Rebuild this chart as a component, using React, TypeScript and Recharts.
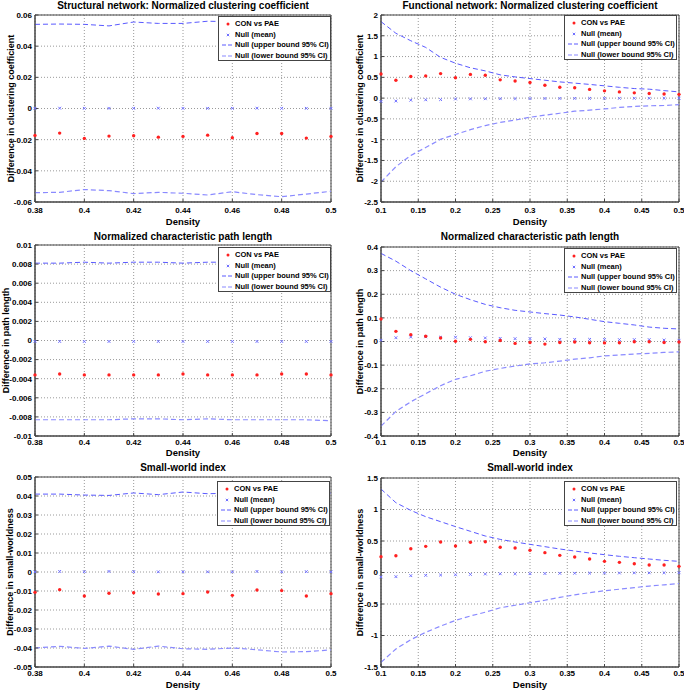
import React from 'react';
import { ComposedChart, Line, XAxis, YAxis, CartesianGrid, Legend, Label, ReferenceArea } from 'recharts';

// ---------- densities ----------
const densityStructural = [0.38, 0.39, 0.4, 0.41, 0.42, 0.43, 0.44, 0.45, 0.46, 0.47, 0.48, 0.49, 0.5];
const densityFunctional = [0.1, 0.12, 0.14, 0.16, 0.18, 0.2, 0.22, 0.24, 0.26, 0.28, 0.3, 0.32, 0.34, 0.36, 0.38, 0.4, 0.42, 0.44, 0.46, 0.48, 0.5];

// ---------- tick labels ----------
const xTicksStructural = [0.38, 0.4, 0.42, 0.44, 0.46, 0.48, 0.5];
const xTicksFunctional = [0.1, 0.15, 0.2, 0.25, 0.3, 0.35, 0.4, 0.45, 0.5];
const yTicksSClust = [-0.06, -0.04, -0.02, 0, 0.02, 0.04, 0.06];
const yTicksFClust = [-2.5, -2, -1.5, -1, -0.5, 0, 0.5, 1, 1.5, 2];
const yTicksSPath = [-0.01, -0.008, -0.006, -0.004, -0.002, 0, 0.002, 0.004, 0.006, 0.008, 0.01];
const yTicksFPath = [-0.4, -0.3, -0.2, -0.1, 0, 0.1, 0.2, 0.3, 0.4];
const yTicksSSw = [-0.05, -0.04, -0.03, -0.02, -0.01, 0, 0.01, 0.02, 0.03, 0.04, 0.05];
const yTicksFSw = [-1.5, -1, -0.5, 0, 0.5, 1, 1.5];

// ---------- legend labels ----------
const legendLabels = ['CON vs PAE', 'Null (mean)', 'Null (upper bound 95% CI)', 'Null (lower bound 95% CI)'];

// ---------- structural: clustering ----------
const sClustCon = [-0.0173, -0.0158, -0.0192, -0.0177, -0.0175, -0.0184, -0.0179, -0.0171, -0.0188, -0.016, -0.016, -0.019, -0.0179];
const sClustNull = [0.0001, 0.0002, 0.0001, 0.0001, 0.0001, 0.0002, 0.0001, 0.0001, 0.0001, 0.0002, 0.0001, 0.0001, 0.0001];
const sClustUp = [0.054, 0.0542, 0.054, 0.053, 0.0555, 0.0546, 0.0546, 0.056, 0.0557, 0.055, 0.0545, 0.0552, 0.055];
const sClustLo = [-0.054, -0.0538, -0.052, -0.0527, -0.0546, -0.0538, -0.0544, -0.0555, -0.0534, -0.0553, -0.0566, -0.0549, -0.0531];

// ---------- functional: clustering ----------
const fClustCon = [0.58, 0.43, 0.52, 0.535, 0.59, 0.49, 0.57, 0.55, 0.44, 0.41, 0.375, 0.31, 0.26, 0.25, 0.21, 0.175, 0.15, 0.127, 0.11, 0.1, 0.09];
const fClustNull = [-0.08, -0.07, -0.05, -0.04, -0.035, -0.02, -0.018, -0.015, -0.013, -0.012, -0.01, -0.009, -0.008, -0.007, -0.006, -0.005, -0.005, -0.004, -0.004, -0.003, -0.003];
const fClustUp = [1.84, 1.56, 1.38, 1.22, 0.98, 0.84, 0.73, 0.655, 0.56, 0.51, 0.47, 0.43, 0.39, 0.36, 0.33, 0.295, 0.26, 0.23, 0.215, 0.18, 0.15];
const fClustLo = [-2.02, -1.65, -1.38, -1.19, -0.99, -0.875, -0.76, -0.66, -0.585, -0.53, -0.46, -0.41, -0.365, -0.315, -0.29, -0.26, -0.225, -0.2, -0.185, -0.178, -0.155];

// ---------- structural: path length ----------
const sPathCon = [-0.0036, -0.0035, -0.0036, -0.0036, -0.0036, -0.0036, -0.0035, -0.0036, -0.0036, -0.0036, -0.0035, -0.0035, -0.0036];
const sPathNull = [-0.0001, -0.0001, -0.0001, -0.0001, -0.0001, -0.0001, -0.0001, -0.0001, -0.0001, -0.0001, -0.0001, -0.0001, -0.0001];
const sPathUp = [0.0081, 0.0081, 0.0082, 0.0081, 0.0082, 0.0082, 0.0081, 0.0082, 0.0082, 0.0082, 0.0082, 0.0081, 0.0082];
const sPathLo = [-0.0083, -0.0083, -0.0083, -0.0083, -0.0082, -0.0082, -0.0083, -0.0082, -0.0083, -0.0083, -0.0083, -0.0083, -0.0084];

// ---------- functional: path length ----------
const fPathCon = [0.095, 0.043, 0.029, 0.022, 0.015, 0.001, 0.009, -0.001, 0.004, -0.008, -0.004, -0.011, -0.004, -0.002, -0.005, -0.006, -0.005, -0.001, -0.001, -0.004, -0.002];
const fPathNull = [0.005, 0.016, 0.019, 0.02, 0.018, 0.018, 0.016, 0.015, 0.013, 0.012, 0.012, 0.011, 0.009, 0.009, 0.009, 0.009, 0.008, 0.008, 0.008, 0.006, 0.005];
const fPathUp = [0.373, 0.34, 0.3, 0.265, 0.23, 0.2, 0.177, 0.157, 0.143, 0.132, 0.125, 0.118, 0.112, 0.104, 0.094, 0.084, 0.077, 0.07, 0.061, 0.056, 0.053];
const fPathLo = [-0.358, -0.296, -0.255, -0.221, -0.187, -0.16, -0.145, -0.126, -0.114, -0.104, -0.095, -0.09, -0.083, -0.075, -0.069, -0.061, -0.057, -0.053, -0.05, -0.046, -0.044];

// ---------- structural: small-world ----------
const sSwCon = [-0.0107, -0.0093, -0.0126, -0.0112, -0.0109, -0.0116, -0.0114, -0.0105, -0.0123, -0.0095, -0.0098, -0.0126, -0.0114];
const sSwNull = [0.0001, 0.0003, 0.0002, 0.0003, 0.0002, 0.0001, 0.0001, 0.0001, 0.0001, 0.0003, 0.0001, 0.0002, 0.0001];
const sSwUp = [0.041, 0.041, 0.0405, 0.0403, 0.0416, 0.0407, 0.0421, 0.0412, 0.0415, 0.0412, 0.0418, 0.041, 0.0415];
const sSwLo = [-0.04, -0.0391, -0.0402, -0.039, -0.0407, -0.039, -0.0404, -0.0407, -0.04, -0.0409, -0.0421, -0.0419, -0.041];

// ---------- functional: small-world ----------
const fSwCon = [0.25, 0.267, 0.378, 0.415, 0.484, 0.42, 0.479, 0.489, 0.4, 0.389, 0.352, 0.315, 0.272, 0.246, 0.214, 0.177, 0.161, 0.14, 0.119, 0.119, 0.098];
const fSwNull = [-0.07, -0.066, -0.05, -0.045, -0.04, -0.036, -0.03, -0.024, -0.02, -0.02, -0.018, -0.016, -0.013, -0.012, -0.01, -0.009, -0.008, -0.006, -0.005, -0.004, -0.003];
const fSwUp = [1.325, 1.108, 0.986, 0.886, 0.807, 0.728, 0.654, 0.579, 0.526, 0.484, 0.447, 0.41, 0.373, 0.341, 0.31, 0.283, 0.257, 0.235, 0.214, 0.193, 0.177];
const fSwLo = [-1.426, -1.214, -1.066, -0.95, -0.85, -0.76, -0.69, -0.63, -0.56, -0.52, -0.48, -0.44, -0.395, -0.355, -0.32, -0.29, -0.265, -0.24, -0.215, -0.195, -0.175];

// ---------- styles ----------
const FONT = '"Liberation Sans", Arial, Helvetica, sans-serif';
const RED = '#ff2020';
const NULL_COLOR = '#7070ff';
const UP_COLOR = '#5a5aff';
const LO_COLOR = '#8a8aff';
const FRAME = '#444';

const build = (xs: number[], con: number[], nul: number[], up: number[], lo: number[]) =>
  xs.map((d, i) => ({ d, con: con[i], nul: nul[i], up: up[i], lo: lo[i] }));

const fmt = (v: number) => String(Number(v.toFixed(4)));

const RedDot = (p: any) => {
  if (p.cx == null || p.cy == null) return <g key={p.key} />;
  return <circle key={p.key} cx={p.cx} cy={p.cy} r={1.7} fill={RED} stroke="none" />;
};
const NullMark = (p: any) => {
  if (p.cx == null || p.cy == null) return <g key={p.key} />;
  const s = 1.4;
  return (
    <path
      key={p.key}
      d={`M${p.cx - s},${p.cy - s}L${p.cx + s},${p.cy + s}M${p.cx - s},${p.cy + s}L${p.cx + s},${p.cy - s}`}
      stroke={NULL_COLOR}
      strokeWidth={1}
      fill="none"
    />
  );
};

const LegendBox = () => (
  <div
    style={{
      width: 111,
      height: 43,
      border: `1px solid ${FRAME}`,
      background: '#fff',
      fontFamily: FONT,
      fontWeight: 'bold',
      fontSize: 7.5,
      color: '#000',
      position: 'relative',
    }}
  >
    {legendLabels.map((lab, i) => (
      <div key={lab} style={{ position: 'absolute', left: 0, top: 2 + i * 10.6, height: 10, width: 111, lineHeight: '10px', whiteSpace: 'nowrap' }}>
        <svg width={14} height={10} style={{ position: 'absolute', left: 2, top: 0 }}>
          {i === 0 && <circle cx={7} cy={5} r={1.5} fill={RED} />}
          {i === 1 && <path d="M5.8,3.8L8.2,6.2M5.8,6.2L8.2,3.8" stroke={NULL_COLOR} strokeWidth={1} />}
          {i === 2 && <line x1={1} y1={5} x2={13} y2={5} stroke={UP_COLOR} strokeWidth={1} strokeDasharray="4 2" />}
          {i === 3 && <line x1={1} y1={5} x2={13} y2={5} stroke={LO_COLOR} strokeWidth={1.2} strokeDasharray="4 2" />}
        </svg>
        <span style={{ position: 'absolute', left: 16, top: 0 }}>{lab}</span>
      </div>
    ))}
  </div>
);

type PanelProps = {
  left: number;
  top: number;
  height: number;
  margin: { top: number; right: number; left: number; bottom: number };
  yW: number;
  xH: number;
  xTickMargin: number;
  title: string;
  titleY: number;
  ylabel: string;
  yLabelX: number;
  xLabelDy: number;
  data: any[];
  xDomain: [number, number];
  xTicks: number[];
  yDomain: [number, number];
  yTicks: number[];
  legendPos: { left: number; top: number };
};

const W = 342;

const Panel = (p: PanelProps) => {
  const plotLeft = p.margin.left + p.yW;
  const plotRight = W - p.margin.right;
  const cx = (plotLeft + plotRight) / 2;
  return (
    <div style={{ position: 'absolute', left: p.left, top: p.top, width: W, height: p.height }}>
      <ComposedChart width={W} height={p.height} data={p.data} margin={p.margin}>
        <CartesianGrid stroke="#9a9a9a" strokeDasharray="1 2" verticalValues={p.xTicks} horizontalValues={p.yTicks} />
        <XAxis
          dataKey="d"
          type="number"
          domain={p.xDomain}
          ticks={p.xTicks}
          interval={0}
          height={p.xH}
          tickSize={-3}
          tickMargin={p.xTickMargin}
          tickFormatter={fmt}
          stroke={FRAME}
          tick={{ fontSize: 8, fontWeight: 'bold', fill: '#000', fontFamily: FONT }}
        >
          <Label
            content={(lp: any) => {
              const vb = lp.viewBox || {};
              return (
                <text
                  x={vb.x + vb.width / 2}
                  y={vb.y + p.xLabelDy}
                  textAnchor="middle"
                  dominantBaseline="central"
                  fontFamily={FONT}
                  fontWeight="bold"
                  fontSize={9.5}
                  fill="#000"
                >
                  Density
                </text>
              );
            }}
          />
        </XAxis>
        <YAxis
          type="number"
          domain={p.yDomain}
          ticks={p.yTicks}
          interval={0}
          width={p.yW}
          tickSize={-3}
          tickMargin={6}
          tickFormatter={fmt}
          stroke={FRAME}
          tick={{ fontSize: 8, fontWeight: 'bold', fill: '#000', fontFamily: FONT }}
        >
          <Label
            content={(lp: any) => {
              const vb = lp.viewBox || {};
              const x = vb.x + p.yLabelX - p.margin.left;
              const y = vb.y + vb.height / 2;
              return (
                <text
                  x={x}
                  y={y}
                  transform={`rotate(-90 ${x} ${y})`}
                  textAnchor="middle"
                  dominantBaseline="central"
                  fontFamily={FONT}
                  fontWeight="bold"
                  fontSize={9}
                  fill="#000"
                >
                  {p.ylabel}
                </text>
              );
            }}
          />
        </YAxis>
        <ReferenceArea
          x1={p.xDomain[0]}
          x2={p.xDomain[1]}
          y1={p.yDomain[0]}
          y2={p.yDomain[1]}
          fill="none"
          fillOpacity={0}
          stroke={FRAME}
          strokeWidth={1}
          ifOverflow="visible"
        />
        <Line dataKey="up" type="linear" stroke={UP_COLOR} strokeWidth={1} strokeDasharray="5 3" dot={false} activeDot={false} isAnimationActive={false} />
        <Line dataKey="lo" type="linear" stroke={LO_COLOR} strokeWidth={1.2} strokeDasharray="5 3" dot={false} activeDot={false} isAnimationActive={false} />
        <Line dataKey="nul" type="linear" stroke="none" dot={NullMark} activeDot={false} isAnimationActive={false} />
        <Line dataKey="con" type="linear" stroke="none" dot={RedDot} activeDot={false} isAnimationActive={false} />
        <Legend
          layout="vertical"
          align="center"
          verticalAlign="middle"
          content={() => <LegendBox />}
          wrapperStyle={{ left: p.legendPos.left, top: p.legendPos.top, width: 113, height: 45 }}
        />
      </ComposedChart>
      <div
        style={{
          position: 'absolute',
          left: cx - 170,
          width: 340,
          top: p.titleY - 7,
          height: 14,
          lineHeight: '14px',
          textAlign: 'center',
          fontFamily: FONT,
          fontWeight: 'bold',
          fontSize: 10,
          color: '#000',
          whiteSpace: 'nowrap',
          pointerEvents: 'none',
        }}
      >
        {p.title}
      </div>
    </div>
  );
};

const yLabClust = 'Difference in clustering coefficient';
const yLabPath = 'Difference in path length';
const yLabSw = 'Difference in small-worldness';

export default function App() {
  return (
    <div style={{ position: 'absolute', left: 0, top: 0, width: 684, height: 691, background: '#fff', overflow: 'hidden' }}>
      <Panel
        left={0} top={0} height={230}
        margin={{ top: 15, right: 11, left: 0, bottom: 0 }} yW={35} xH={28} xTickMargin={8.8}
        title="Structural network: Normalized clustering coefficient" titleY={5.5}
        ylabel={yLabClust} yLabelX={11} xLabelDy={19}
        data={build(densityStructural, sClustCon, sClustNull, sClustUp, sClustLo)}
        xDomain={[0.38, 0.5]} xTicks={xTicksStructural}
        yDomain={[-0.06, 0.06]} yTicks={yTicksSClust}
        legendPos={{ left: 218, top: 16 }}
      />
      <Panel
        left={342} top={0} height={230}
        margin={{ top: 15, right: 5, left: 0, bottom: 0 }} yW={39} xH={28} xTickMargin={8.8}
        title="Functional network: Normalized clustering coefficient" titleY={5.5}
        ylabel={yLabClust} yLabelX={17.5} xLabelDy={19}
        data={build(densityFunctional, fClustCon, fClustNull, fClustUp, fClustLo)}
        xDomain={[0.1, 0.5]} xTicks={xTicksFunctional}
        yDomain={[-2.5, 2]} yTicks={yTicksFClust}
        legendPos={{ left: 222, top: 15 }}
      />
      <Panel
        left={0} top={230} height={230}
        margin={{ top: 15, right: 11, left: 0, bottom: 0 }} yW={35} xH={24} xTickMargin={6.2}
        title="Normalized characteristic path length" titleY={7}
        ylabel={yLabPath} yLabelX={5.5} xLabelDy={16.5}
        data={build(densityStructural, sPathCon, sPathNull, sPathUp, sPathLo)}
        xDomain={[0.38, 0.5]} xTicks={xTicksStructural}
        yDomain={[-0.01, 0.01]} yTicks={yTicksSPath}
        legendPos={{ left: 218, top: 17 }}
      />
      <Panel
        left={342} top={230} height={230}
        margin={{ top: 17, right: 5, left: 0, bottom: 0 }} yW={39} xH={24} xTickMargin={6.2}
        title="Normalized characteristic path length" titleY={6.7}
        ylabel={yLabPath} yLabelX={17.5} xLabelDy={16.5}
        data={build(densityFunctional, fPathCon, fPathNull, fPathUp, fPathLo)}
        xDomain={[0.1, 0.5]} xTicks={xTicksFunctional}
        yDomain={[-0.4, 0.4]} yTicks={yTicksFPath}
        legendPos={{ left: 222, top: 18 }}
      />
      <Panel
        left={0} top={460} height={231}
        margin={{ top: 17, right: 11, left: 0, bottom: 0 }} yW={35} xH={24} xTickMargin={6.2}
        title="Small-world index" titleY={8}
        ylabel={yLabSw} yLabelX={10} xLabelDy={17.5}
        data={build(densityStructural, sSwCon, sSwNull, sSwUp, sSwLo)}
        xDomain={[0.38, 0.5]} xTicks={xTicksStructural}
        yDomain={[-0.05, 0.05]} yTicks={yTicksSSw}
        legendPos={{ left: 217, top: 21 }}
      />
      <Panel
        left={342} top={460} height={231}
        margin={{ top: 18, right: 5, left: 0, bottom: 0 }} yW={39} xH={24} xTickMargin={6.2}
        title="Small-world index" titleY={8}
        ylabel={yLabSw} yLabelX={18} xLabelDy={17.5}
        data={build(densityFunctional, fSwCon, fSwNull, fSwUp, fSwLo)}
        xDomain={[0.1, 0.5]} xTicks={xTicksFunctional}
        yDomain={[-1.5, 1.5]} yTicks={yTicksFSw}
        legendPos={{ left: 222, top: 21 }}
      />
    </div>
  );
}
